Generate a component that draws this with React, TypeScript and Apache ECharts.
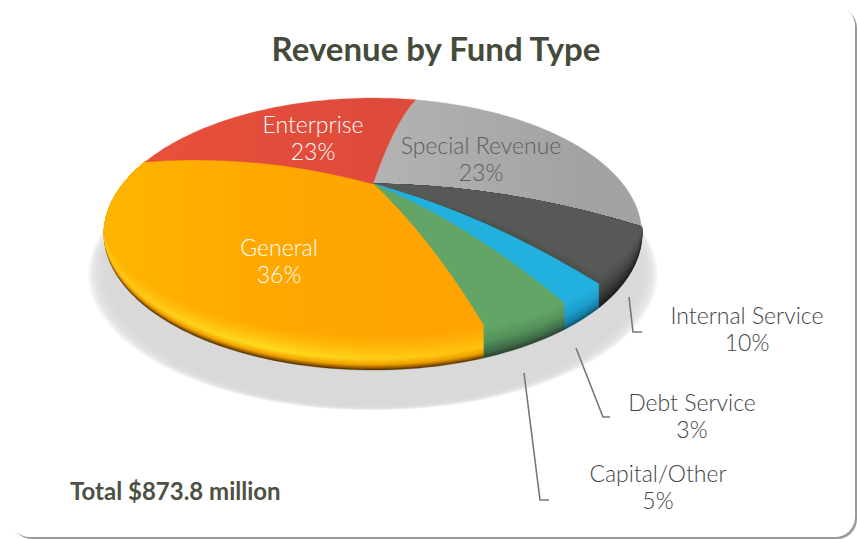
import React, { useEffect, useRef } from "react";
import * as echarts from "echarts";

// Fund shares in drawing order, clockwise from the Enterprise / Special Revenue seam.
const fundNames = ["Special Revenue", "Internal Service", "Debt Service", "Capital/Other", "General", "Enterprise"];
const fundShares = [23, 10, 3, 5, 36, 23];
const chartTitle = "Revenue by Fund Type";
const totalNote = "Total $873.8 million";

// Tilted disc: apex of the wedges, perspective strength and half-axes.
const APEX = { x: 373, y: 184 };
const TILT = 0.368;
const HALF_X = 250;
const HALF_Y = 117.6;
const DOME = 10;
const START_DEG = 74;
const rad = (d: number) => (d * Math.PI) / 180;

// Bevel ramps: distance from the rim in px, then colours at left / middle / right of the disc.
type Stop = [number, string, string, string];
const flat = (d: number, c: string): Stop => [d, c, c, c];
const bevels: Stop[][] = [
  [[0, "#c0c0c0", "#bcbcbc", "#a2a2a2"]],
  [flat(0, "#1c1c1b"), flat(8, "#2f302e"), flat(22, "#464845"), flat(42, "#565955")],
  [flat(0, "#0e5672"), flat(5, "#147ea3"), flat(15, "#1d9ecd"), flat(30, "#22b0de")],
  [flat(0, "#2c4631"), flat(5, "#3d6a47"), flat(16, "#55925c"), flat(30, "#62a566")],
  [
    [0, "#5a3600", "#5a3600", "#5a3600"],
    [2, "#a06400", "#a06400", "#a06400"],
    [5, "#ee9c00", "#f4a400", "#e89800"],
    [11, "#ffc010", "#ffdc20", "#ffa800"],
    [21, "#ffb808", "#ffc010", "#ffa600"],
    [34, "#ffb400", "#ffa800", "#ffa000"],
  ],
  [[0, "#ea503c", "#e44d3b", "#d4473a"]],
];

const hex = (c: string) => [1, 3, 5].map((i) => parseInt(c.slice(i, i + 2), 16));
const mix = (a: string, b: string, f: number) => {
  const pa = hex(a);
  const pb = hex(b);
  return `rgb(${pa.map((v, i) => Math.round(v + (pb[i] - v) * f)).join(",")})`;
};

// Colours of a bevel ramp at distance d, one per horizontal gradient stop.
function rampAt(stops: Stop[], d: number): string[] {
  for (let i = 1; i < stops.length; i++) {
    if (d <= stops[i][0]) {
      const f = (d - stops[i - 1][0]) / (stops[i][0] - stops[i - 1][0]);
      return [1, 2, 3].map((k) => mix(stops[i - 1][k] as string, stops[i][k] as string, f));
    }
  }
  const last = stops[stops.length - 1];
  return [1, 2, 3].map((k) => mix(last[k] as string, last[k] as string, 0));
}

// Camera skew of the disc angle, then the perspective projection of the rim.
function rimPoint(deg: number, inset: number) {
  const c = Math.max(0, Math.cos(rad(deg - 20)));
  const u = Math.max(0, Math.cos(rad(deg - 100)));
  const t = rad(deg + 2.8 - 9 * Math.cos(rad(deg)) - 5 * c * c + 6 * u * u * u * u);
  const den = 1 + TILT * Math.sin(t);
  const px = APEX.x + (HALF_X * Math.cos(t)) / den;
  // The bevel only lifts the rim below the disc's widest points.
  const lift = inset * Math.pow(Math.max(0, (-Math.sin(t) - TILT) / (1 - TILT)), 0.5);
  const py = APEX.y - (HALF_Y * Math.sin(t)) / den - lift;
  return [px, py];
}

// Wedge outline between two disc angles, with rays bowed upward like a dome.
function wedge(fromDeg: number, toDeg: number, inset: number) {
  const ray = (deg: number) => {
    const [ex, ey] = rimPoint(deg, inset);
    return (s: number) => [
      APEX.x + s * (ex - APEX.x),
      APEX.y + s * (ey - APEX.y) - DOME * 4 * s * (1 - s),
    ];
  };
  const pts: number[][] = [];
  const first = ray(fromDeg);
  for (let s = 0; s < 1; s += 0.1) pts.push(first(s));
  const steps = Math.max(4, Math.ceil(Math.abs(toDeg - fromDeg) / 1.5));
  for (let i = 0; i <= steps; i++) pts.push(rimPoint(fromDeg + ((toDeg - fromDeg) * i) / steps, inset));
  const last = ray(toDeg);
  for (let s = 0.9; s > 0.01; s -= 0.1) pts.push(last(s));
  return pts;
}

function renderWedge(params: any, api: any) {
  const i = params.dataIndex;
  const total = fundShares.reduce((a, b) => a + b, 0);
  const before = fundShares.slice(0, i).reduce((a, b) => a + b, 0);
  const from = START_DEG - (before / total) * 360;
  const to = from - (api.value(0) / total) * 360;
  const stops = bevels[i];
  const maxD = stops[stops.length - 1][0];
  const children: any[] = [];
  const layerCount = maxD === 0 ? 0 : Math.ceil(maxD / 1.25);
  for (let l = 0; l <= layerCount; l++) {
    const d = layerCount === 0 ? 0 : (maxD * l) / layerCount;
    const [c0, c1, c2] = rampAt(stops, d);
    const fill = {
      type: "linear",
      global: true,
      x: 104,
      y: 0,
      x2: 642,
      y2: 0,
      colorStops: [
        { offset: 0.02, color: c0 },
        { offset: 0.3, color: c1 },
        { offset: 0.9, color: c2 },
      ],
    };
    children.push({
      type: "polygon",
      shape: { points: wedge(from, to, d) },
      style: { fill, stroke: c1, lineWidth: 0.3 },
    });
  }
  return { type: "group", children };
}

// Shadow under the disc: the rim shape moved down, stacked to fade at the edge.
function shadowLayers() {
  const layers: any[] = [];
  for (let b = 9; b >= -9; b -= 2) {
    const points: number[][] = [];
    for (let deg = 0; deg < 360; deg += 3) {
      const [x, y] = rimPoint(deg, 0);
      points.push([APEX.x + (x - APEX.x) * (1.025 + b / 269), y + 38 + b * 0.25]);
    }
    layers.push({
      type: "polygon",
      z: -8,
      shape: { points },
      style: { fill: "rgba(216,216,216,0.26)" },
    });
  }
  return layers;
}

const labelFont = "Lato, 'Noto Sans', sans-serif";
const labelLine = (name: string, share: number, x: number, y: number, fill: string) => ({
  type: "text",
  x,
  y,
  style: {
    text: `${name}\n${share}%`,
    fill,
    font: `300 23px ${labelFont}`,
    lineHeight: 27,
    align: "center",
    verticalAlign: "middle",
  },
});

const leader = (points: number[][]) => ({
  type: "polyline",
  shape: { points },
  style: { stroke: "#777777", lineWidth: 1.6, fill: "none" },
});

export default function App() {
  const ref = useRef<HTMLDivElement>(null);
  useEffect(() => {
    const chart = echarts.init(ref.current!, null, { renderer: "svg" });
    chart.setOption({
      animation: false,
      backgroundColor: "#ffffff",
      graphic: [
        // Card with a hard grey edge on its right and bottom sides
        { type: "rect", z: -10, shape: { x: 12, y: 8, width: 845, height: 531, r: 20 }, style: { fill: "#9a9a9a" } },
        { type: "rect", z: -9, shape: { x: 10, y: 6, width: 845, height: 531, r: 20 }, style: { fill: "#ffffff" } },
        ...shadowLayers(),
        {
          type: "text",
          x: 436,
          y: 48,
          z: 5,
          style: {
            text: chartTitle,
            fill: "#454b3a",
            font: `700 33px ${labelFont}`,
            align: "center",
            verticalAlign: "middle",
          },
        },
        {
          type: "text",
          x: 70,
          y: 490,
          z: 5,
          style: {
            text: totalNote,
            fill: "#4d5143",
            font: `700 24px ${labelFont}`,
            align: "left",
            verticalAlign: "middle",
          },
        },
        { ...labelLine(fundNames[5], fundShares[5], 313, 137, "#ffffff"), z: 5 },
        { ...labelLine(fundNames[0], fundShares[0], 481, 158, "#5e5e5e"), z: 5 },
        { ...labelLine(fundNames[4], fundShares[4], 279, 260, "#ffffff"), z: 5 },
        { ...labelLine(fundNames[1], fundShares[1], 747, 328, "#444444"), z: 5 },
        { ...labelLine(fundNames[2], fundShares[2], 692, 415, "#444444"), z: 5 },
        { ...labelLine(fundNames[3], fundShares[3], 658, 486, "#444444"), z: 5 },
        { ...leader([[629, 297], [633, 332], [642, 332]]), z: 4 },
        { ...leader([[576, 348], [603, 417], [610, 417]]), z: 4 },
        { ...leader([[524, 373], [540, 500], [549, 500]]), z: 4 },
      ],
      series: [
        {
          type: "custom",
          coordinateSystem: "none",
          renderItem: renderWedge,
          data: fundShares.map((v, i) => ({ name: fundNames[i], value: [v] })),
          silent: true,
          z: 2,
        },
      ],
    });
    return () => chart.dispose();
  }, []);
  return <div ref={ref} style={{ position: "fixed", left: 0, top: 0, width: 857, height: 539 }} />;
}
